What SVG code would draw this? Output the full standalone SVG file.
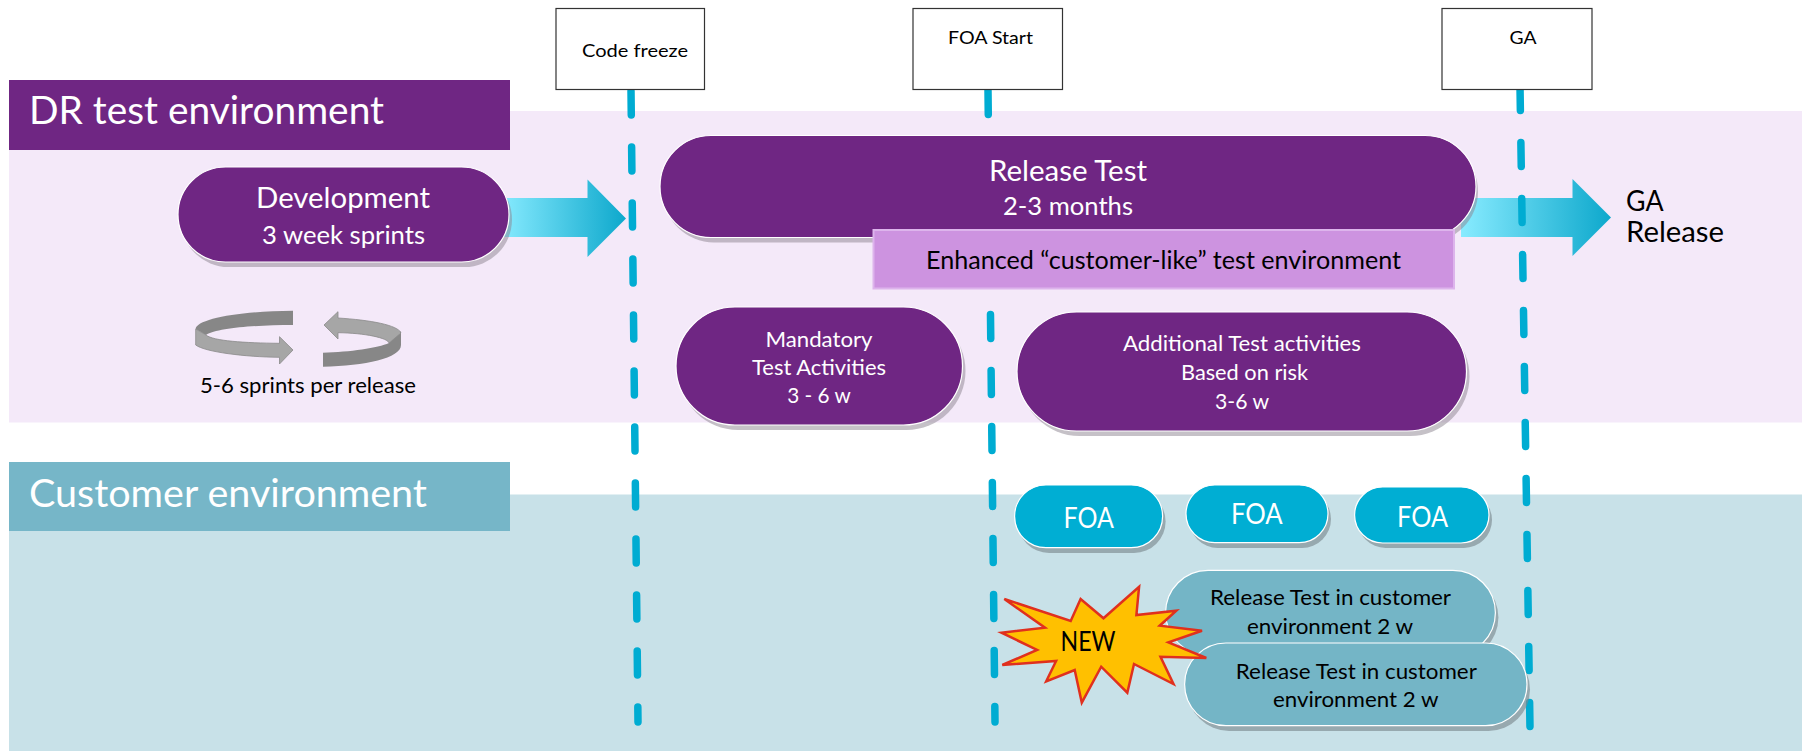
<svg xmlns="http://www.w3.org/2000/svg" width="1802" height="751" viewBox="0 0 1802 751">
<style>
text{font-family:"Lato","Carlito","Liberation Sans",sans-serif}
.w{fill:#fff}.k{fill:#000}.m{text-anchor:middle}
.pp{fill:#6F2683;stroke:#fff;stroke-width:1.2}
.ppS{fill:#8c8490;opacity:.5}
.tl{fill:#00AED3;stroke:#fff;stroke-width:1.2}
.tlS{fill:#7c8a90;opacity:.65}
.tm{fill:#74B5C6;stroke:#fff;stroke-width:1.2}
.ms{fill:#fff;stroke:#333;stroke-width:1.2}
.dash{fill:none;stroke:#00ACD2;stroke-width:7.5;stroke-linecap:round;stroke-dasharray:24 32}
.hd{fill:#878787}.lt{fill:#A6A6A6;stroke:#8a8a8a;stroke-width:.8}
</style>
<defs>
<linearGradient id="ag" x1="0" x2="1" y1="0" y2="0"><stop offset="0" stop-color="#88EBFF"/><stop offset="1" stop-color="#0DA8CC"/></linearGradient>
</defs>
<rect id="dr-band" x="9" y="111" width="1793" height="311.500" fill="#F4E9F9"/>
<rect id="cust-band" x="9" y="494.500" width="1793" height="256.500" fill="#C8E1E8"/>
<g id="dr-header"><rect x="9" y="80" width="501" height="70" fill="#6F2683"/><text class="w" x="29" y="124" font-size="38" textLength="355" lengthAdjust="spacingAndGlyphs">DR test environment</text></g>
<g id="cust-header"><rect x="9" y="462" width="501" height="69" fill="#76B6C8"/><text class="w" x="29" y="507" font-size="38" textLength="398" lengthAdjust="spacingAndGlyphs">Customer environment</text></g>
<g id="connectors">
<path d="M500,198H587.500V179.500L626,218.500L587.500,257V237H500Z" fill="url(#ag)"/>
<path d="M1461,198H1572.500V179L1611,217.500L1572.500,256V237H1461Z" fill="url(#ag)"/>
<path class="dash" d="M631,90.500L638,722" stroke-dashoffset="-0.500"/>
<path class="dash" d="M988,90.500L995,722"/>
<path class="dash" d="M1520,86.500L1530,728"/>
</g>
<g id="code-freeze"><rect class="ms" x="556" y="8.500" width="148.500" height="81"/><text class="k m" x="635" y="57" font-size="18" textLength="106" lengthAdjust="spacingAndGlyphs">Code freeze</text></g>
<g id="foa-start"><rect class="ms" x="913" y="8.500" width="149.500" height="81"/><text class="k m" x="990.500" y="44" font-size="18" textLength="85" lengthAdjust="spacingAndGlyphs">FOA Start</text></g>
<g id="ga"><rect class="ms" x="1442" y="8.500" width="150" height="81"/><text class="k m" x="1523" y="44" font-size="18" textLength="27" lengthAdjust="spacingAndGlyphs">GA</text></g>
<g id="development"><rect class="ppS" x="181" y="172" width="331" height="95" rx="47.500"/><rect class="pp" x="178" y="167" width="331" height="95" rx="47.500"/><text class="w m" x="343" y="208" font-size="28" textLength="174" lengthAdjust="spacingAndGlyphs">Development</text><text class="w m" x="343.500" y="244" font-size="25" textLength="163" lengthAdjust="spacingAndGlyphs">3 week sprints</text></g>
<g id="sprints">
<path class="hd" d="M293,310.700V325C255,325 217,328 206,335L195.700,329C196,319 240,311 293,310.700Z"/>
<path class="lt" d="M195.700,329V345C205,352 245,357 279.500,357.300V364L293,350L279.500,336.700V343.300C245,343 213,341 206,335Z"/>
<path class="hd" d="M323,352.700V366.700C365,366 401,358 401,345V331L389,343C378,348 350,352 323,352.700Z"/>
<path class="lt" d="M338,318C370,320 398,325 401,333L389,343C388,338 365,333 338,332.700V339L324,325L338,311.700Z"/>
<text class="k" x="200" y="393" font-size="22" textLength="216" lengthAdjust="spacingAndGlyphs">5-6 sprints per release</text></g>
<g id="release-test"><rect class="ppS" x="663" y="140.500" width="815" height="102" rx="51"/><rect class="pp" x="660" y="135.500" width="816" height="102" rx="51"/><text class="w m" x="1068" y="181" font-size="29" textLength="158" lengthAdjust="spacingAndGlyphs">Release Test</text><text class="w m" x="1068" y="215" font-size="25" textLength="130" lengthAdjust="spacingAndGlyphs">2-3 months</text></g>
<g id="enhanced"><rect x="873.500" y="230" width="580.500" height="58.500" fill="#CD93E0" stroke="#DDB4EC" stroke-width="2"/><text class="k m" x="1163.500" y="269" font-size="25" textLength="475" lengthAdjust="spacingAndGlyphs">Enhanced “customer-like” test environment</text></g>
<g id="ga-release"><text class="k" x="1626" y="211" font-size="28" textLength="37.500" lengthAdjust="spacingAndGlyphs">GA</text><text class="k" x="1626" y="242" font-size="28" textLength="98" lengthAdjust="spacingAndGlyphs">Release</text></g>
<g id="mandatory"><rect class="ppS" x="679" y="312" width="286.500" height="118" rx="59"/><rect class="pp" x="676" y="307" width="286.500" height="118" rx="59"/><text class="w m" x="819" y="347" font-size="21" textLength="107" lengthAdjust="spacingAndGlyphs">Mandatory</text><text class="w m" x="819" y="375" font-size="21" textLength="134" lengthAdjust="spacingAndGlyphs">Test Activities</text><text class="w m" x="819" y="403" font-size="21" textLength="63.500" lengthAdjust="spacingAndGlyphs">3 - 6 w</text></g>
<g id="additional"><rect class="ppS" x="1020" y="317" width="449.500" height="119" rx="59.500"/><rect class="pp" x="1017" y="312" width="449.500" height="119" rx="59.500"/><text class="w m" x="1242" y="351" font-size="21" textLength="238" lengthAdjust="spacingAndGlyphs">Additional Test activities</text><text class="w m" x="1244.500" y="380" font-size="21" textLength="127" lengthAdjust="spacingAndGlyphs">Based on risk</text><text class="w m" x="1242" y="409" font-size="21" textLength="54" lengthAdjust="spacingAndGlyphs">3-6 w</text></g>
<g id="foa-1"><rect class="tlS" x="1017.600" y="490" width="148" height="63" rx="31.500"/><rect class="tl" x="1014.600" y="485" width="148" height="62.700" rx="31.350"/><text class="w m" x="1088.800" y="527.700" font-size="29" textLength="50.400" lengthAdjust="spacingAndGlyphs">FOA</text></g>
<g id="foa-2"><rect class="tlS" x="1189" y="490" width="142" height="58" rx="29"/><rect class="tl" x="1186" y="485" width="142" height="57.700" rx="28.850"/><text class="w m" x="1256.800" y="524" font-size="29" textLength="51.700" lengthAdjust="spacingAndGlyphs">FOA</text></g>
<g id="foa-3"><rect class="tlS" x="1357.600" y="492" width="134.400" height="56" rx="28"/><rect class="tl" x="1354.600" y="487" width="134.400" height="56" rx="28"/><text class="w m" x="1422.500" y="526.700" font-size="29" textLength="51" lengthAdjust="spacingAndGlyphs">FOA</text></g>
<g id="release-customer-1"><rect class="tlS" x="1168.600" y="575" width="329.800" height="85" rx="42.500"/><rect class="tm" x="1165.600" y="570.300" width="329.800" height="85" rx="42.500"/><text class="k m" x="1330.500" y="605" font-size="22" textLength="241" lengthAdjust="spacingAndGlyphs">Release Test in customer</text><text class="k m" x="1330" y="634" font-size="22" textLength="166" lengthAdjust="spacingAndGlyphs">environment 2 w</text></g>
<g id="release-customer-2"><rect class="tlS" x="1187.600" y="648" width="342.400" height="83" rx="41.500"/><rect class="tm" x="1184.600" y="643" width="342.400" height="82.700" rx="41.350"/><text class="k m" x="1356.300" y="679" font-size="22" textLength="241" lengthAdjust="spacingAndGlyphs">Release Test in customer</text><text class="k m" x="1355.700" y="706.700" font-size="22" textLength="165.500" lengthAdjust="spacingAndGlyphs">environment 2 w</text></g>
<g id="new-burst"><polygon points="1004.300,599 1070.700,621 1080.600,599 1103.500,618.300 1139.100,586.700 1136.400,615 1176.300,610.700 1159.700,625.700 1202,630.700 1168.400,642.300 1206.300,658 1160.500,656.700 1173.500,684 1134,664 1127.300,692.700 1101.200,666.700 1081.800,702.700 1074.700,670 1046.200,681.300 1056.100,661 1002.300,665 1037.100,650 1001.500,632.700 1045,627.700" fill="#FFC000" stroke="#E0301E" stroke-width="2.500"/><text class="k m" x="1088" y="650.700" font-size="26" textLength="55" lengthAdjust="spacingAndGlyphs">NEW</text></g>
</svg>
